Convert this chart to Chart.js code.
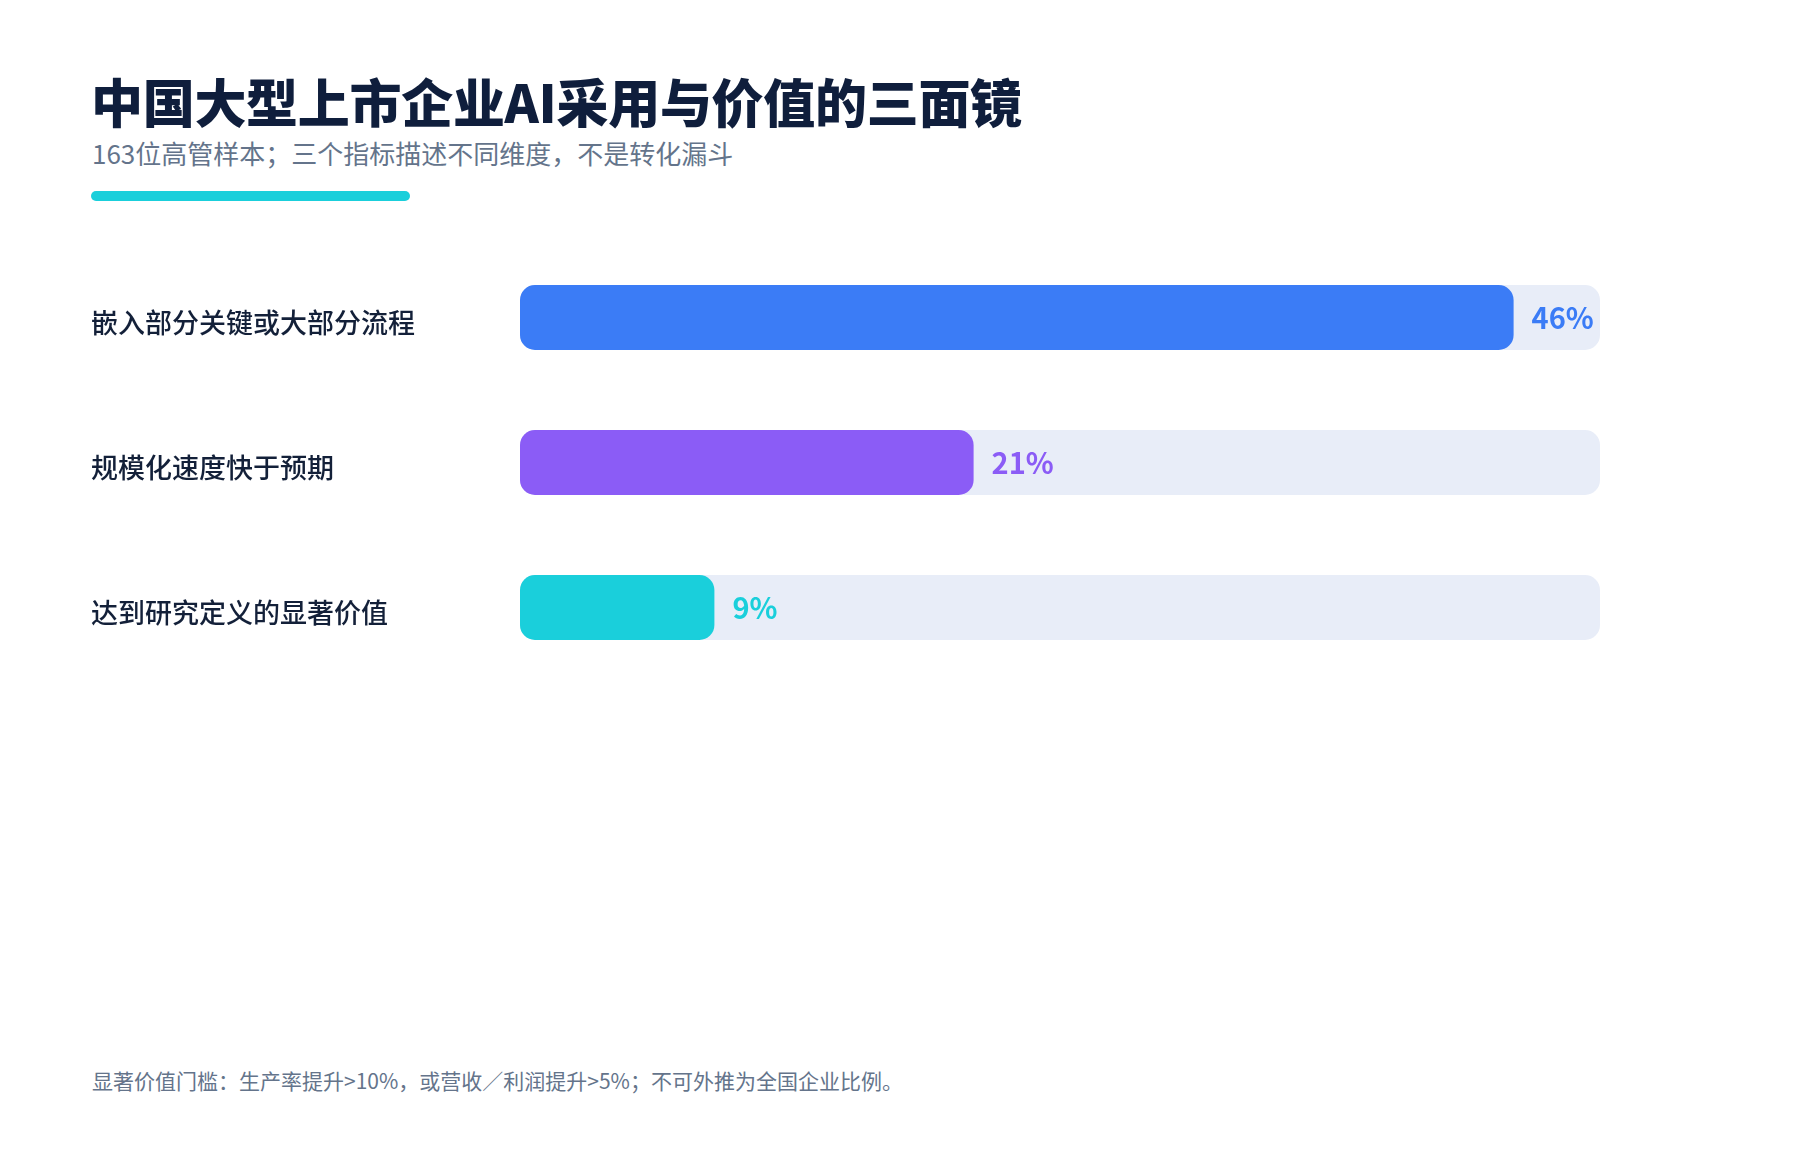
<!DOCTYPE html>
<html lang="zh">
<head>
    <meta charset="UTF-8">
    <title>中国大型上市企业AI采用与价值的三面镜</title>
    <script src="https://cdn.jsdelivr.net/npm/chart.js"></script>
    <style>
        html, body { margin: 0; padding: 0; background: #ffffff; }
        body { width: 1800px; height: 1160px; position: relative; overflow: hidden;
               font-family: "Noto Sans CJK SC", "Noto Sans", sans-serif; }
        .title { position: absolute; left: 91px; top: 75px; font-size: 52px; line-height: 1;
                 font-weight: 900; color: #0f1e3c; letter-spacing: -0.3px; }
        .subtitle { position: absolute; left: 92px; top: 140px; font-size: 26px; line-height: 1;
                    color: #64748b; font-weight: 400; }
        .accent { position: absolute; left: 91px; top: 191px; width: 319px; height: 10px;
                  border-radius: 5px; background: #1acfdb; }
        .note { position: absolute; left: 92px; top: 1070px; font-size: 21px; line-height: 1;
                color: #64748b; }
        .chart-box { position: absolute; left: 0; top: 220px; width: 1800px; height: 485px; }
    </style>
</head>
<body>
<div class="title">中国大型上市企业AI采用与价值的三面镜</div>
<div class="subtitle">163位高管样本；三个指标描述不同维度，不是转化漏斗</div>
<div class="accent"></div>

<div class="chart-box">
    <canvas id="mirrorChart"></canvas>
</div>

<div class="note">显著价值门槛：生产率提升&gt;10%，或营收／利润提升&gt;5%；不可外推为全国企业比例。</div>

<script>
    // data
    const categories = ['嵌入部分关键或大部分流程', '规模化速度快于预期', '达到研究定义的显著价值'];
    const shares = [46, 21, 9];
    const barColors = ['#3b7cf6', '#8b5cf6', '#1acfdb'];
    const scaleMax = 50;
    const trackValues = [scaleMax, scaleMax, scaleMax];

    // draws "46%" etc just past the end of each bar
    const valueLabels = {
        id: 'valueLabels',
        afterDatasetsDraw(chart) {
            const meta = chart.getDatasetMeta(0);
            const ctx = chart.ctx;
            ctx.save();
            ctx.font = '700 29px "Noto Sans CJK SC", sans-serif';
            ctx.textAlign = 'left';
            ctx.textBaseline = 'middle';
            meta.data.forEach((bar, i) => {
                ctx.fillStyle = barColors[i];
                ctx.fillText(shares[i] + '%', bar.x + 18, bar.y);
            });
            ctx.restore();
        }
    };

    const ctx = document.getElementById('mirrorChart').getContext('2d');
    new Chart(ctx, {
        type: 'bar',
        data: {
            labels: categories,
            datasets: [{
                label: '比例',
                data: shares,
                backgroundColor: barColors,
                borderRadius: 15,
                borderSkipped: false,
                grouped: false,
                order: 0,
                barPercentage: 0.448,
                categoryPercentage: 1
            }, {
                label: 'track',
                data: trackValues,
                backgroundColor: '#e8edf8',
                borderRadius: 15,
                borderSkipped: false,
                grouped: false,
                order: 1,
                barPercentage: 0.448,
                categoryPercentage: 1
            }]
        },
        options: {
            indexAxis: 'y',
            responsive: true,
            maintainAspectRatio: false,
            animation: false,
            // top/bottom padding absorbs the tick label half-heights so the plot spans 245..680
            layout: { padding: { left: 91, right: 200, top: 25, bottom: 25 } },
            plugins: {
                legend: { display: false },
                tooltip: { enabled: false }
            },
            scales: {
                x: {
                    display: false,
                    min: 0,
                    max: scaleMax,
                    grid: { display: false }
                },
                y: {
                    grid: { display: false },
                    border: { display: false },
                    ticks: {
                        crossAlign: 'far',
                        labelOffset: 5,
                        color: '#132039',
                        font: { family: '"Noto Sans CJK SC", sans-serif', size: 27, weight: '500' }
                    },
                    afterFit(scale) { scale.width = 429; }
                }
            }
        },
        plugins: [valueLabels]
    });
</script>
</body>
</html>
